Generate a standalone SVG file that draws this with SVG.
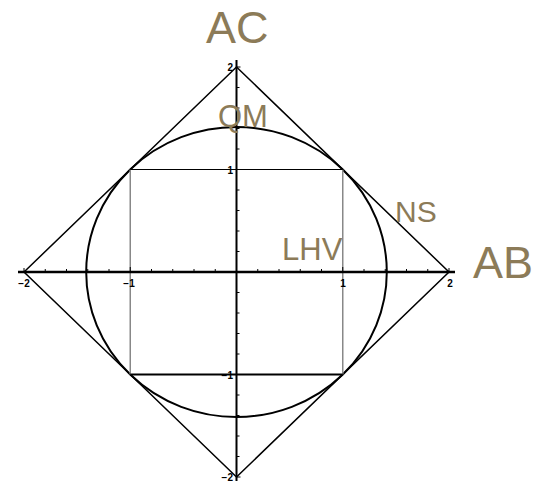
<svg xmlns="http://www.w3.org/2000/svg" width="533" height="483" viewBox="0 0 533 483">
<style>
.lbl{font-family:"Liberation Sans",Arial,sans-serif;fill:#8C7B58}
.tk{font-family:"Liberation Sans",Arial,sans-serif;font-size:10px;font-weight:bold;fill:#000}
.ln{fill:none;stroke:#000}
</style>
<rect width="533" height="483" fill="#fff"/>
<g id="connectors">
<path id="diamond" class="ln" stroke-width="1.5" d="M24,272 L236.5,67 L449,272 L236.5,477 Z"/>
<ellipse id="circle" class="ln" stroke-width="2" cx="236.5" cy="272" rx="150.3" ry="145"/>
<path id="square-sides" fill="none" stroke="#888" stroke-width="1.5" d="M130.25,169.5 V374.5 M342.75,169.5 V374.5"/>
<path id="square-top" class="ln" stroke-width="1" d="M130.25,169.5 H342.75"/>
<path id="square-bottom" class="ln" stroke-width="2" d="M130.25,374.5 H342.75"/>
<path id="x-axis" class="ln" stroke-width="2.5" d="M18,272 H455"/>
<path id="y-axis" class="ln" stroke-width="2" d="M236.5,60 V481"/>
<path id="ticks" class="ln" stroke-width="1" d="M24,272v-4 M45.25,272v-3 M66.5,272v-3 M87.75,272v-3 M109,272v-3 M130.25,272v-5 M151.5,272v-3 M172.75,272v-3 M194,272v-3 M215.25,272v-3 M257.75,272v-3 M279,272v-3 M300.25,272v-3 M321.5,272v-3 M342.75,272v-5 M364,272v-3 M385.25,272v-3 M406.5,272v-3 M427.75,272v-3 M449,272v-4 M236.5,67h4 M236.5,87.5h3 M236.5,108h3 M236.5,128.5h3 M236.5,149h3 M236.5,169.5h5 M236.5,190h3 M236.5,210.5h3 M236.5,231h3 M236.5,251.5h3 M236.5,292.5h3 M236.5,313h3 M236.5,333.5h3 M236.5,354h3 M236.5,374.5h5 M236.5,395h3 M236.5,415.5h3 M236.5,436h3 M236.5,456.5h3 M236.5,477h4"/>
</g>
<g id="tick-labels">
<text class="tk" x="24" y="287" text-anchor="middle">−2</text>
<text class="tk" x="129" y="287" text-anchor="middle">−1</text>
<text class="tk" x="343" y="287" text-anchor="middle">1</text>
<text class="tk" x="450" y="287" text-anchor="middle">2</text>
<text class="tk" x="233" y="71" text-anchor="end">2</text>
<text class="tk" x="233" y="174" text-anchor="end">1</text>
<text class="tk" x="233" y="379" text-anchor="end">−1</text>
<text class="tk" x="233" y="481" text-anchor="end">−2</text>
</g>
<g id="AC"><text class="lbl" x="206" y="43" font-size="45">AC</text></g>
<g id="AB"><text class="lbl" x="473" y="278" font-size="45">AB</text></g>
<g id="QM"><text class="lbl" x="218" y="127" font-size="31">QM</text></g>
<g id="NS"><text class="lbl" x="395" y="222" font-size="30">NS</text></g>
<g id="LHV"><text class="lbl" x="282" y="260" font-size="31">LHV</text></g>
</svg>
